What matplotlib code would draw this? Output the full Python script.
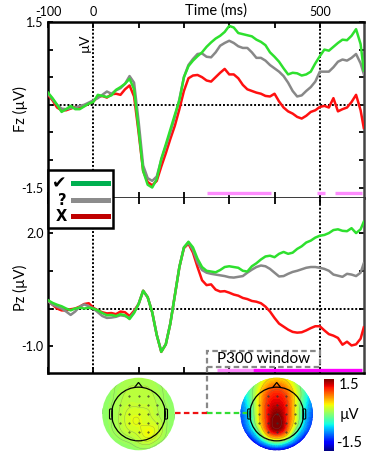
import numpy as np
import matplotlib
matplotlib.use("Agg")
import matplotlib.pyplot as plt
import matplotlib.tri as mtri
from matplotlib.lines import Line2D
from matplotlib.patches import Circle, Rectangle, Polygon, FancyBboxPatch
from matplotlib.cm import ScalarMappable
from matplotlib.colors import Normalize

# ---------------- data ----------------
time_ms = list(range(-100, 600, 10)) + [597]

fz_correct = [0.22, 0.12, 0.00, -0.13, -0.08, -0.02, -0.08, -0.08, -0.03, 0.02,
              0.05, 0.18, 0.16, 0.14, 0.17, 0.27, 0.32, 0.38, 0.47, 0.28,
              -0.45, -1.20, -1.45, -1.50, -1.35, -0.98, -0.72, -0.45, -0.18, 0.08,
              0.50, 0.70, 0.80, 0.88, 0.95, 1.05, 1.13, 1.20, 1.25, 1.32,
              1.43, 1.40, 1.30, 1.28, 1.26, 1.24, 1.18, 1.14, 1.08, 0.95,
              0.87, 0.78, 0.66, 0.55, 0.58, 0.57, 0.53, 0.55, 0.60, 0.75,
              0.88, 1.00, 0.98, 1.05, 1.12, 1.18, 1.17, 1.25, 1.37, 1.10, 0.62]
fz_unsure = [0.20, 0.10, 0.00, -0.07, -0.08, -0.06, -0.05, -0.02, 0.00, 0.04,
             0.08, 0.12, 0.18, 0.24, 0.20, 0.26, 0.30, 0.38, 0.52, 0.40,
             -0.30, -1.10, -1.33, -1.38, -1.30, -1.00, -0.75, -0.50, -0.22, 0.10,
             0.50, 0.72, 0.83, 0.92, 0.93, 0.87, 0.86, 0.95, 1.07, 1.12,
             1.16, 1.12, 1.06, 1.03, 1.03, 0.95, 0.85, 0.85, 0.80, 0.72,
             0.66, 0.60, 0.52, 0.40, 0.25, 0.15, 0.17, 0.25, 0.32, 0.42,
             0.60, 0.60, 0.60, 0.68, 0.78, 0.82, 0.80, 0.85, 0.92, 0.75, 0.56]
fz_wrong = [0.18, 0.08, -0.05, -0.10, -0.10, -0.07, -0.04, -0.06, -0.02, 0.02,
            0.06, 0.14, 0.16, 0.13, 0.19, 0.20, 0.18, 0.28, 0.35, 0.15,
            -0.50, -1.20, -1.40, -1.46, -1.38, -1.12, -0.88, -0.62, -0.38, -0.08,
            0.25, 0.48, 0.53, 0.54, 0.50, 0.44, 0.42, 0.50, 0.58, 0.65,
            0.55, 0.55, 0.48, 0.36, 0.28, 0.25, 0.22, 0.20, 0.16, 0.15,
            0.20, 0.06, -0.05, -0.12, -0.16, -0.22, -0.25, -0.20, -0.13, -0.10,
            -0.04, -0.02, -0.05, 0.12, -0.12, -0.08, -0.05, 0.05, 0.18, -0.10, -0.42]

pz_correct = [0.22, 0.15, 0.10, 0.06, 0.00, -0.05, 0.00, 0.02, 0.00, 0.02,
              0.00, -0.05, -0.12, -0.18, -0.17, -0.20, -0.15, -0.18, -0.28, -0.12,
              0.12, 0.47, 0.30, -0.10, -0.70, -1.15, -0.95, -0.40, 0.35, 1.10,
              1.62, 1.77, 1.62, 1.32, 1.10, 1.00, 0.98, 0.96, 1.02, 1.10,
              1.12, 1.10, 1.08, 1.00, 0.98, 1.12, 1.20, 1.30, 1.38, 1.40,
              1.36, 1.45, 1.50, 1.45, 1.48, 1.58, 1.65, 1.75, 1.80, 1.88,
              1.93, 1.95, 2.00, 2.08, 2.10, 2.06, 2.05, 2.13, 2.00, 2.10, 2.30]
pz_unsure = [0.20, 0.10, 0.05, 0.00, -0.08, -0.17, -0.08, 0.05, 0.11, 0.06,
             0.00, -0.10, -0.20, -0.25, -0.24, -0.22, -0.18, -0.20, -0.25, -0.10,
             0.12, 0.47, 0.30, -0.10, -0.70, -1.13, -0.95, -0.40, 0.35, 1.10,
             1.62, 1.75, 1.55, 1.22, 1.02, 0.95, 0.92, 0.90, 0.88, 0.86,
             0.83, 0.82, 0.84, 0.86, 0.95, 1.03, 1.10, 1.14, 1.12, 1.05,
             0.95, 0.85, 0.86, 0.92, 0.97, 1.00, 1.04, 1.08, 1.10, 1.10,
             1.08, 1.05, 1.00, 0.90, 0.87, 0.84, 0.92, 0.90, 0.86, 0.95, 1.20]
pz_wrong = [0.20, 0.10, 0.00, -0.05, -0.05, -0.02, 0.00, 0.05, 0.12, 0.14,
            0.02, -0.05, -0.10, -0.13, -0.12, -0.15, -0.08, -0.10, -0.20, -0.06,
            0.12, 0.47, 0.30, -0.10, -0.70, -1.15, -0.95, -0.40, 0.35, 1.10,
            1.60, 1.72, 1.48, 1.10, 0.75, 0.62, 0.64, 0.50, 0.45, 0.46,
            0.42, 0.37, 0.34, 0.28, 0.25, 0.20, 0.18, 0.14, 0.05, -0.08,
            -0.25, -0.40, -0.48, -0.56, -0.62, -0.64, -0.63, -0.58, -0.52, -0.47,
            -0.47, -0.58, -0.68, -0.72, -0.78, -0.96, -0.88, -0.98, -0.95, -0.80, -0.50]

fz_sig_windows = [(251, 392), (493, 511), (533, 592)]
pz_sig_weak = [(273, 352)]
pz_sig_strong = [(352, 592)]
p300_window = (251, 500)

fz_yticks = [-1.5, -1.0, -0.5, 0.0, 0.5, 1.0, 1.5]
fz_yticklabels = ["-1.5", "", "", "", "", "", "1.5"]
pz_yticks = [-1.0, 0.0, 1.0, 2.0]
pz_yticklabels = ["-1.0", "", "", "2.0"]
xticks = [-100, 0, 100, 200, 300, 400, 500]
xticklabels = ["-100", "0", "", "", "", "", "500"]
legend_labels = ["\u2714", "?", "X"]

# topographic maps: values (µV) on a 9x9 grid over the head, rows top->bottom
topo_wrong = [
    [0.00, 0.05, 0.10, 0.15, 0.15, 0.15, 0.10, 0.05, 0.00],
    [0.05, 0.10, 0.15, 0.20, 0.20, 0.20, 0.15, 0.10, 0.05],
    [0.05, 0.10, 0.18, 0.22, 0.22, 0.22, 0.18, 0.10, 0.05],
    [0.05, 0.12, 0.20, 0.26, 0.26, 0.25, 0.20, 0.12, 0.05],
    [0.05, 0.12, 0.22, 0.32, 0.34, 0.30, 0.22, 0.13, 0.05],
    [0.05, 0.12, 0.22, 0.33, 0.36, 0.33, 0.28, 0.14, 0.05],
    [0.02, 0.10, 0.18, 0.26, 0.32, 0.42, 0.32, 0.13, 0.04],
    [0.00, 0.05, 0.10, 0.14, 0.22, 0.28, 0.18, 0.08, 0.00],
    [-0.05, 0.00, 0.04, 0.05, 0.08, 0.08, 0.04, 0.00, -0.05]]
topo_correct = [
    [-0.6, -0.3, 0.1, 0.4, 0.5, 0.4, 0.1, -0.3, -0.6],
    [-0.6, -0.2, 0.3, 0.75, 0.9, 0.75, 0.3, -0.2, -0.6],
    [-0.7, -0.2, 0.45, 1.0, 1.15, 1.0, 0.45, -0.2, -0.7],
    [-0.8, -0.3, 0.45, 1.1, 1.3, 1.1, 0.45, -0.3, -0.8],
    [-0.9, -0.4, 0.45, 1.15, 1.5, 1.15, 0.45, -0.4, -0.9],
    [-1.0, -0.5, 0.35, 1.15, 1.65, 1.15, 0.35, -0.5, -1.0],
    [-1.2, -0.8, -0.1, 0.85, 1.25, 0.85, -0.1, -0.8, -1.2],
    [-1.5, -1.3, -0.8, -0.2, 0.1, -0.2, -0.8, -1.3, -1.5],
    [-1.8, -1.7, -1.6, -1.4, -1.3, -1.4, -1.6, -1.7, -1.8]]
topo_range = (-1.5, 1.5)

# ---------------- style ----------------
FONT = ["Lato", "DejaVu Sans"]
plt.rcParams["font.family"] = FONT
C_GREEN, C_GRAY, C_RED = "#2ee02e", "#888888", "#ff1010"
L_GREEN, L_GRAY, L_RED = "#00b050", "#8c8c8c", "#c00000"
PINK, MAGENTA = "#ff8cff", "#ff00ff"

W, H = 386, 455
fig = plt.figure(figsize=(W / 100, H / 100), dpi=100)


def px_axes(x0, y0, x1, y1, **kw):
    return fig.add_axes([x0 / W, 1 - y1 / H, (x1 - x0) / W, (y1 - y0) / H], **kw)


ax_fz = px_axes(48, 22, 364, 198)
ax_pz = px_axes(48, 198, 364, 373)

dot = (0, (1, 1))
for ax, series, ylim in ((ax_fz, (fz_wrong, fz_unsure, fz_correct), (-1.69, 1.5)),
                         (ax_pz, (pz_wrong, pz_unsure, pz_correct), (-1.71, 2.93))):
    ax.set_xlim(-100, 597.5)
    ax.set_ylim(*ylim)
    ax.axhline(0, color="k", lw=1.4, ls=dot, zorder=1)
    for t in (0, 500):
        ax.axvline(t, color="k", lw=1.4, ls=dot, zorder=1)
    for vals, col in zip(series, (C_RED, C_GRAY, C_GREEN)):
        ax.plot(time_ms, vals, color=col, lw=1.8, zorder=3, solid_joinstyle="round")
    for s in ax.spines.values():
        s.set_linewidth(1.8)
        s.set_color("k")
    ax.spines["right"].set_color("#444444")
    ax.set_xticks(xticks)
    ax.tick_params(axis="both", direction="in", length=3.5, width=1.3,
                   labelsize=9, pad=3, top=True, bottom=True, left=True, right=True)

ax_fz.set_xticklabels(xticklabels)
ax_fz.tick_params(axis="x", labeltop=True, labelbottom=False, pad=3)
ax_pz.tick_params(axis="x", labeltop=False, labelbottom=False)
ax_fz.tick_params(axis="x", which="major", length=4)
ax_pz.tick_params(axis="x", which="major", length=4)
ax_pz.spines["top"].set_visible(False)
ax_fz.set_yticks(fz_yticks)
ax_fz.set_yticklabels(fz_yticklabels)
ax_pz.set_yticks(pz_yticks)
ax_pz.set_yticklabels(pz_yticklabels)

# significance bars
for a, b in fz_sig_windows:
    ax_fz.plot([a, b], [-1.6, -1.6], color=PINK, lw=2.4, solid_capstyle="butt", zorder=2)
for a, b in pz_sig_weak:
    ax_pz.plot([a, b], [-1.63, -1.63], color=PINK, lw=2.4, solid_capstyle="butt", zorder=2)
for a, b in pz_sig_strong:
    ax_pz.plot([a, b], [-1.63, -1.63], color=MAGENTA, lw=2.4, solid_capstyle="butt", zorder=2)

# P300 window box
ax_pz.add_patch(Rectangle((p300_window[0], -1.56), p300_window[1] - p300_window[0], 0.43,
                          fill=False, ec="#888888", lw=1.6, ls=(0, (2.5, 1.5)), zorder=4))
ax_pz.text(sum(p300_window) / 2, -1.345, "P300 window", ha="center", va="center",
           fontsize=11, zorder=5)

ax_fz.text(-18, 1.12, "\u00b5V", rotation=90, ha="center", va="center", fontsize=10)

# labels
fig.text(216 / W, 1 - 11 / H, "Time (ms)", ha="center", va="center", fontsize=10.5)
fig.text(20 / W, 1 - 109 / H, "Fz (\u00b5V)", rotation=90, ha="center", va="center", fontsize=10.5)
fig.text(20 / W, 1 - 288 / H, "Pz (\u00b5V)", rotation=90, ha="center", va="center", fontsize=10.5)

# legend
handles = [Line2D([], [], color=c, lw=3.6) for c in (L_GREEN, L_GRAY, L_RED)]
leg = fig.legend(handles, legend_labels, loc="upper left", bbox_to_anchor=(48 / W, 1 - 170 / H),
                 markerfirst=False, frameon=True, fancybox=False, framealpha=1,
                 edgecolor="k", borderaxespad=0, borderpad=0.3, handlelength=2.4,
                 handletextpad=0.45, labelspacing=0.05,
                 prop={"family": ["DejaVu Sans"], "weight": "bold", "size": 10.5})
leg.get_frame().set_linewidth(1.8)
leg.get_texts()[0].set_fontsize(12.5)
leg.set_zorder(10)

# ---------------- topographic maps ----------------
g = np.linspace(-1, 1, 9)
GU, GV = np.meshgrid(g, g[::-1])
tri = mtri.Triangulation(GU.ravel(), GV.ravel())
refiner = mtri.UniformTriRefiner(tri)
norm = Normalize(*topo_range)


def topo(ax, grid, line_levels):
    z = np.array(grid, dtype=float).ravel()
    tf, zf = refiner.refine_field(z, subdiv=4)
    clip = Circle((0, 0), 1.0, transform=ax.transData)
    cf = ax.tricontourf(tf, zf, levels=np.linspace(-2.2, 2.2, 89), cmap="jet", norm=norm)
    cf.set_clip_path(clip)
    cl = ax.tricontour(tf, zf, levels=line_levels, colors="#666666", linewidths=0.3, alpha=0.55)
    cl.set_clip_path(clip)
    r_head = 0.74
    ax.add_patch(Circle((0, 0), r_head, fill=False, ec="k", lw=0.9))
    ax.add_patch(Polygon([(-0.11, r_head - 0.01), (0, r_head + 0.13), (0.11, r_head - 0.01)],
                         closed=False, fill=False, ec="k", lw=0.9))
    for sx in (-1, 1):
        ax.add_patch(FancyBboxPatch((sx * r_head - 0.04 + sx * 0.02, -0.14), 0.08, 0.28,
                                    boxstyle="round,pad=0,rounding_size=0.03",
                                    fill=False, ec="k", lw=0.8))
    inside = GU ** 2 + GV ** 2 < 0.68 ** 2
    ax.plot(GU[inside], GV[inside], ".", color="#333333", ms=0.9)
    ax.set_xlim(-1.02, 1.02)
    ax.set_ylim(-1.02, 1.02)
    ax.set_aspect("equal")
    ax.axis("off")


ax_t1 = px_axes(101.5, 377, 175.5, 451)
ax_t2 = px_axes(239.7, 377, 313.7, 451)
topo(ax_t1, topo_wrong, [0.05, 0.12, 0.2, 0.28, 0.36])
topo(ax_t2, topo_correct, [-1.2, -0.6, 0.0, 0.5, 1.0, 1.5])

cax = px_axes(324.3, 379.3, 334.3, 451)
cb = fig.colorbar(ScalarMappable(norm=norm, cmap="jet"), cax=cax)
cb.outline.set_visible(False)
cax.set_yticks([])
fig.text(339 / W, 1 - 385 / H, "1.5", ha="left", va="center", fontsize=10.5)
fig.text(340 / W, 1 - 415 / H, "\u00b5V", ha="left", va="center", fontsize=10.5)
fig.text(336 / W, 1 - 443 / H, "-1.5", ha="left", va="center", fontsize=10.5)

# connectors from the P300 window to the maps
ov = fig.add_axes([0, 0, 1, 1], zorder=20)
ov.set_xlim(0, W)
ov.set_ylim(H, 0)
ov.axis("off")
xw_px = ax_pz.transData.transform((p300_window[0], 0))[0]
yb_px = H - ax_pz.transData.transform((0, -1.56))[1]
ov.plot([xw_px, xw_px], [yb_px, 413], color="#888888", lw=1.6, ls=(0, (2.5, 1.5)))
ov.plot([175, xw_px], [413, 413], color="#ee1111", lw=1.6, ls=(0, (2.5, 1.5)))
ov.plot([xw_px, 247], [413, 413], color="#33dd33", lw=1.6, ls=(0, (2.5, 1.5)))

fig.savefig("out.png", dpi=100)
